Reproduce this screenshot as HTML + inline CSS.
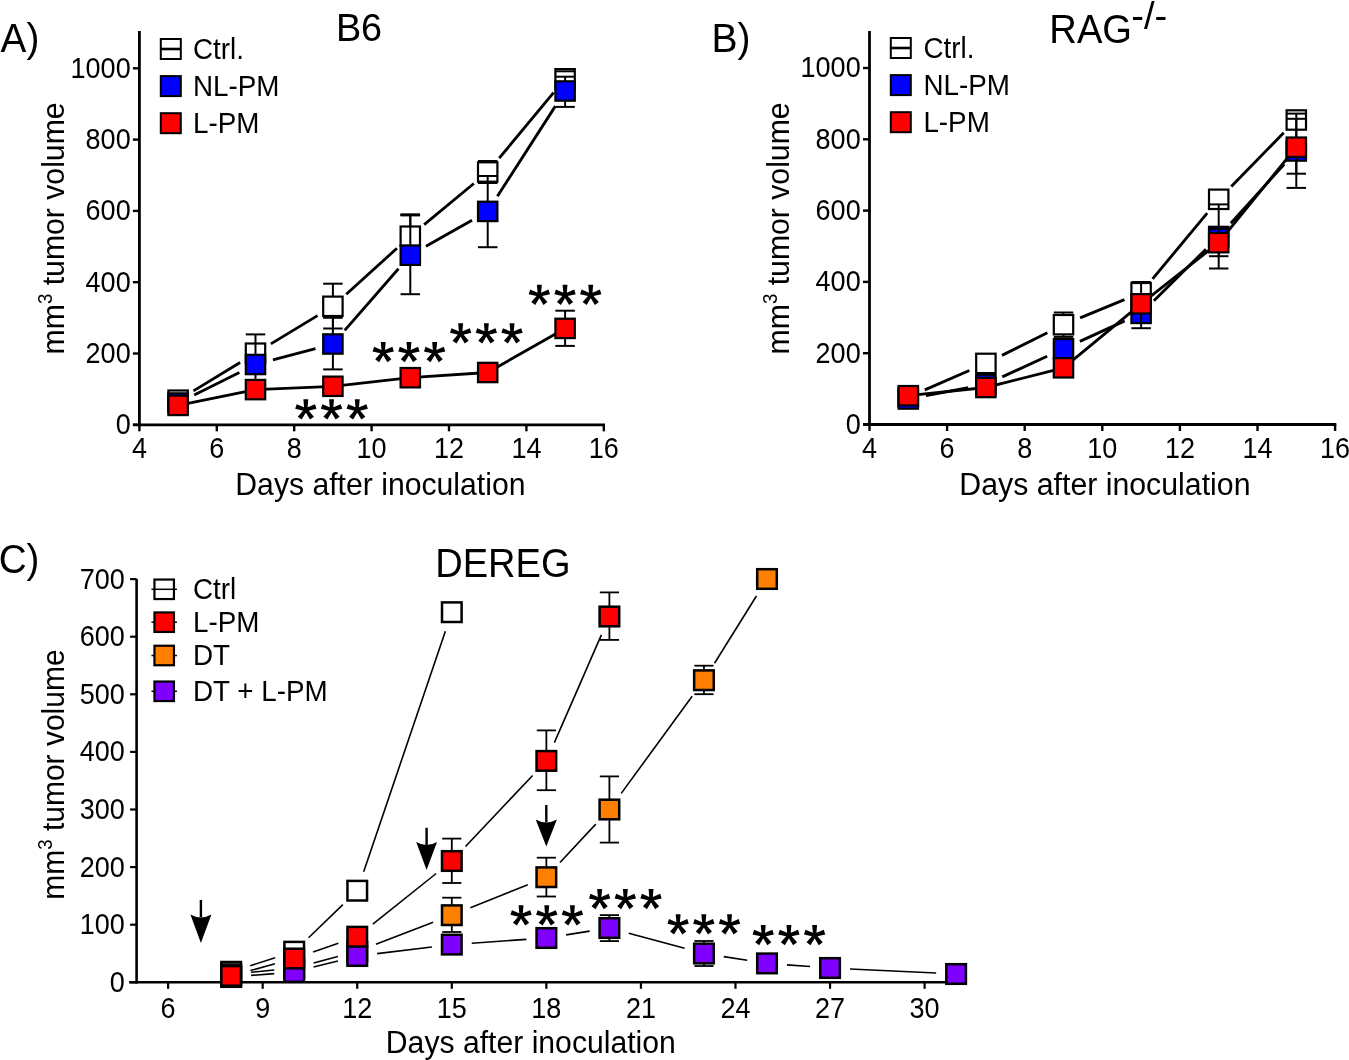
<!DOCTYPE html>
<html><head><meta charset="utf-8"><style>
html,body{margin:0;padding:0;background:#fff;}
svg{display:block;will-change:transform;}
text{font-family:"Liberation Sans", sans-serif;fill:#000;}
</style></head><body>
<svg width="1349" height="1060" viewBox="0 0 1349 1060">
<rect width="1349" height="1060" fill="#fff"/>
<text transform="translate(0.62,51.90) scale(1,1.05)" font-size="38.78" text-anchor="start" >A)</text>
<text transform="translate(335.90,40.60) scale(1,1.05)" font-size="37.82" text-anchor="start" >B6</text>
<line x1="132.90" y1="424.80" x2="605.00" y2="424.80" stroke="#000" stroke-width="2.8" stroke-linecap="butt"/>
<line x1="139.40" y1="426.20" x2="139.40" y2="31.00" stroke="#000" stroke-width="2.8" stroke-linecap="butt"/>
<line x1="139.40" y1="424.80" x2="139.40" y2="431.30" stroke="#000" stroke-width="2.4" stroke-linecap="butt"/>
<text transform="translate(139.40,458.20) scale(1,1.08)" font-size="27.00" text-anchor="middle" >4</text>
<line x1="216.80" y1="424.80" x2="216.80" y2="431.30" stroke="#000" stroke-width="2.4" stroke-linecap="butt"/>
<text transform="translate(216.80,458.20) scale(1,1.08)" font-size="27.00" text-anchor="middle" >6</text>
<line x1="294.20" y1="424.80" x2="294.20" y2="431.30" stroke="#000" stroke-width="2.4" stroke-linecap="butt"/>
<text transform="translate(294.20,458.20) scale(1,1.08)" font-size="27.00" text-anchor="middle" >8</text>
<line x1="371.60" y1="424.80" x2="371.60" y2="431.30" stroke="#000" stroke-width="2.4" stroke-linecap="butt"/>
<text transform="translate(371.60,458.20) scale(1,1.08)" font-size="27.00" text-anchor="middle" >10</text>
<line x1="449.00" y1="424.80" x2="449.00" y2="431.30" stroke="#000" stroke-width="2.4" stroke-linecap="butt"/>
<text transform="translate(449.00,458.20) scale(1,1.08)" font-size="27.00" text-anchor="middle" >12</text>
<line x1="526.40" y1="424.80" x2="526.40" y2="431.30" stroke="#000" stroke-width="2.4" stroke-linecap="butt"/>
<text transform="translate(526.40,458.20) scale(1,1.08)" font-size="27.00" text-anchor="middle" >14</text>
<line x1="603.80" y1="424.80" x2="603.80" y2="431.30" stroke="#000" stroke-width="2.4" stroke-linecap="butt"/>
<text transform="translate(603.80,458.20) scale(1,1.08)" font-size="27.00" text-anchor="middle" >16</text>
<line x1="132.90" y1="424.80" x2="139.40" y2="424.80" stroke="#000" stroke-width="2.4" stroke-linecap="butt"/>
<text transform="translate(115.64,434.25) scale(1,1.08)" font-size="27.00" text-anchor="start" >0</text>
<line x1="132.90" y1="353.50" x2="139.40" y2="353.50" stroke="#000" stroke-width="2.4" stroke-linecap="butt"/>
<text transform="translate(85.61,362.95) scale(1,1.08)" font-size="27.00" text-anchor="start" >200</text>
<line x1="132.90" y1="282.20" x2="139.40" y2="282.20" stroke="#000" stroke-width="2.4" stroke-linecap="butt"/>
<text transform="translate(85.61,291.65) scale(1,1.08)" font-size="27.00" text-anchor="start" >400</text>
<line x1="132.90" y1="210.90" x2="139.40" y2="210.90" stroke="#000" stroke-width="2.4" stroke-linecap="butt"/>
<text transform="translate(85.61,220.35) scale(1,1.08)" font-size="27.00" text-anchor="start" >600</text>
<line x1="132.90" y1="139.60" x2="139.40" y2="139.60" stroke="#000" stroke-width="2.4" stroke-linecap="butt"/>
<text transform="translate(85.61,149.05) scale(1,1.08)" font-size="27.00" text-anchor="start" >800</text>
<line x1="132.90" y1="68.30" x2="139.40" y2="68.30" stroke="#000" stroke-width="2.4" stroke-linecap="butt"/>
<text transform="translate(70.59,77.75) scale(1,1.08)" font-size="27.00" text-anchor="start" >1000</text>
<text transform="translate(235.32,494.70) scale(1,1.05)" font-size="30.18" text-anchor="start" >Days after inoculation</text>
<text transform="translate(63.80,354.40) rotate(-90) scale(1,1.05)" font-size="30.2">mm<tspan font-size="18.72" dy="-11.48">3</tspan><tspan dy="11.48"> tumor volume</tspan></text>
<rect x="160.80" y="39.00" width="20.00" height="20.00" fill="#fff" stroke="#000" stroke-width="2.0"/>
<line x1="160.80" y1="49.00" x2="180.80" y2="49.00" stroke="#000" stroke-width="2.6" stroke-linecap="butt"/>
<text transform="translate(193.00,58.60) scale(1,1.05)" font-size="27.80" text-anchor="start" >Ctrl.</text>
<rect x="160.80" y="76.10" width="20.00" height="20.00" fill="#0000ff" stroke="#000" stroke-width="2.0"/>
<text transform="translate(193.00,95.70) scale(1,1.05)" font-size="27.80" text-anchor="start" >NL-PM</text>
<rect x="160.80" y="113.20" width="20.00" height="20.00" fill="#ff0000" stroke="#000" stroke-width="2.0"/>
<text transform="translate(193.00,132.80) scale(1,1.05)" font-size="27.80" text-anchor="start" >L-PM</text>
<line x1="332.90" y1="306.30" x2="332.90" y2="283.70" stroke="#000" stroke-width="2.0"/>
<line x1="323.15" y1="283.70" x2="342.65" y2="283.70" stroke="#000" stroke-width="2.0"/>
<line x1="332.90" y1="306.30" x2="332.90" y2="328.50" stroke="#000" stroke-width="2.0"/>
<line x1="323.15" y1="328.50" x2="342.65" y2="328.50" stroke="#000" stroke-width="2.0"/>
<line x1="410.30" y1="236.20" x2="410.30" y2="214.90" stroke="#000" stroke-width="2.0"/>
<line x1="400.55" y1="214.90" x2="420.05" y2="214.90" stroke="#000" stroke-width="2.0"/>
<line x1="487.70" y1="172.00" x2="487.70" y2="161.00" stroke="#000" stroke-width="2.0"/>
<line x1="477.95" y1="161.00" x2="497.45" y2="161.00" stroke="#000" stroke-width="2.0"/>
<line x1="487.70" y1="172.00" x2="487.70" y2="183.00" stroke="#000" stroke-width="2.0"/>
<line x1="477.95" y1="183.00" x2="497.45" y2="183.00" stroke="#000" stroke-width="2.0"/>
<line x1="565.10" y1="78.80" x2="565.10" y2="71.30" stroke="#000" stroke-width="2.0"/>
<line x1="555.35" y1="71.30" x2="574.85" y2="71.30" stroke="#000" stroke-width="2.0"/>
<line x1="193.49" y1="390.86" x2="240.11" y2="362.54" stroke="#000" stroke-width="2.85"/>
<line x1="270.89" y1="343.87" x2="317.51" y2="315.63" stroke="#000" stroke-width="2.85"/>
<line x1="346.24" y1="294.22" x2="396.96" y2="248.28" stroke="#000" stroke-width="2.85"/>
<line x1="424.15" y1="224.71" x2="473.85" y2="183.49" stroke="#000" stroke-width="2.85"/>
<line x1="499.20" y1="158.15" x2="553.60" y2="92.65" stroke="#000" stroke-width="2.85"/>
<rect x="168.40" y="390.50" width="19.40" height="19.40" fill="#fff" stroke="#000" stroke-width="2.2"/>
<rect x="245.80" y="343.50" width="19.40" height="19.40" fill="#fff" stroke="#000" stroke-width="2.2"/>
<rect x="323.20" y="296.60" width="19.40" height="19.40" fill="#fff" stroke="#000" stroke-width="2.2"/>
<rect x="400.60" y="226.50" width="19.40" height="19.40" fill="#fff" stroke="#000" stroke-width="2.2"/>
<rect x="478.00" y="162.30" width="19.40" height="19.40" fill="#fff" stroke="#000" stroke-width="2.2"/>
<rect x="555.40" y="69.10" width="19.40" height="19.40" fill="#fff" stroke="#000" stroke-width="2.2"/>
<line x1="255.50" y1="364.50" x2="255.50" y2="334.40" stroke="#000" stroke-width="2.0"/>
<line x1="245.75" y1="334.40" x2="265.25" y2="334.40" stroke="#000" stroke-width="2.0"/>
<line x1="255.50" y1="364.50" x2="255.50" y2="394.60" stroke="#000" stroke-width="2.0"/>
<line x1="245.75" y1="394.60" x2="265.25" y2="394.60" stroke="#000" stroke-width="2.0"/>
<line x1="332.90" y1="344.00" x2="332.90" y2="317.80" stroke="#000" stroke-width="2.0"/>
<line x1="323.15" y1="317.80" x2="342.65" y2="317.80" stroke="#000" stroke-width="2.0"/>
<line x1="332.90" y1="344.00" x2="332.90" y2="369.40" stroke="#000" stroke-width="2.0"/>
<line x1="323.15" y1="369.40" x2="342.65" y2="369.40" stroke="#000" stroke-width="2.0"/>
<line x1="410.30" y1="255.20" x2="410.30" y2="214.90" stroke="#000" stroke-width="2.0"/>
<line x1="400.55" y1="214.90" x2="420.05" y2="214.90" stroke="#000" stroke-width="2.0"/>
<line x1="410.30" y1="255.20" x2="410.30" y2="294.20" stroke="#000" stroke-width="2.0"/>
<line x1="400.55" y1="294.20" x2="420.05" y2="294.20" stroke="#000" stroke-width="2.0"/>
<line x1="487.70" y1="211.40" x2="487.70" y2="176.00" stroke="#000" stroke-width="2.0"/>
<line x1="477.95" y1="176.00" x2="497.45" y2="176.00" stroke="#000" stroke-width="2.0"/>
<line x1="487.70" y1="211.40" x2="487.70" y2="247.20" stroke="#000" stroke-width="2.0"/>
<line x1="477.95" y1="247.20" x2="497.45" y2="247.20" stroke="#000" stroke-width="2.0"/>
<line x1="565.10" y1="91.00" x2="565.10" y2="76.70" stroke="#000" stroke-width="2.0"/>
<line x1="555.35" y1="76.70" x2="574.85" y2="76.70" stroke="#000" stroke-width="2.0"/>
<line x1="565.10" y1="91.00" x2="565.10" y2="106.90" stroke="#000" stroke-width="2.0"/>
<line x1="555.35" y1="106.90" x2="574.85" y2="106.90" stroke="#000" stroke-width="2.0"/>
<line x1="194.22" y1="394.98" x2="239.38" y2="372.52" stroke="#000" stroke-width="2.85"/>
<line x1="272.90" y1="359.89" x2="315.50" y2="348.61" stroke="#000" stroke-width="2.85"/>
<line x1="344.73" y1="330.43" x2="398.47" y2="268.77" stroke="#000" stroke-width="2.85"/>
<line x1="425.97" y1="246.33" x2="472.03" y2="220.27" stroke="#000" stroke-width="2.85"/>
<line x1="497.43" y1="196.26" x2="555.37" y2="106.14" stroke="#000" stroke-width="2.85"/>
<rect x="168.40" y="393.30" width="19.40" height="19.40" fill="#0000ff" stroke="#000" stroke-width="2.2"/>
<rect x="245.80" y="354.80" width="19.40" height="19.40" fill="#0000ff" stroke="#000" stroke-width="2.2"/>
<rect x="323.20" y="334.30" width="19.40" height="19.40" fill="#0000ff" stroke="#000" stroke-width="2.2"/>
<rect x="400.60" y="245.50" width="19.40" height="19.40" fill="#0000ff" stroke="#000" stroke-width="2.2"/>
<rect x="478.00" y="201.70" width="19.40" height="19.40" fill="#0000ff" stroke="#000" stroke-width="2.2"/>
<rect x="555.40" y="81.30" width="19.40" height="19.40" fill="#0000ff" stroke="#000" stroke-width="2.2"/>
<line x1="565.10" y1="328.40" x2="565.10" y2="310.70" stroke="#000" stroke-width="2.0"/>
<line x1="555.35" y1="310.70" x2="574.85" y2="310.70" stroke="#000" stroke-width="2.0"/>
<line x1="565.10" y1="328.40" x2="565.10" y2="345.90" stroke="#000" stroke-width="2.0"/>
<line x1="555.35" y1="345.90" x2="574.85" y2="345.90" stroke="#000" stroke-width="2.0"/>
<line x1="178.10" y1="405.40" x2="255.50" y2="389.60" stroke="#000" stroke-width="2.85"/>
<line x1="255.50" y1="389.60" x2="332.90" y2="386.30" stroke="#000" stroke-width="2.85"/>
<line x1="332.90" y1="386.30" x2="410.30" y2="377.70" stroke="#000" stroke-width="2.85"/>
<line x1="410.30" y1="377.70" x2="487.70" y2="372.50" stroke="#000" stroke-width="2.85"/>
<line x1="487.70" y1="372.50" x2="565.10" y2="328.40" stroke="#000" stroke-width="2.85"/>
<rect x="168.40" y="395.70" width="19.40" height="19.40" fill="#ff0000" stroke="#000" stroke-width="2.2"/>
<rect x="245.80" y="379.90" width="19.40" height="19.40" fill="#ff0000" stroke="#000" stroke-width="2.2"/>
<rect x="323.20" y="376.60" width="19.40" height="19.40" fill="#ff0000" stroke="#000" stroke-width="2.2"/>
<rect x="400.60" y="368.00" width="19.40" height="19.40" fill="#ff0000" stroke="#000" stroke-width="2.2"/>
<rect x="478.00" y="362.80" width="19.40" height="19.40" fill="#ff0000" stroke="#000" stroke-width="2.2"/>
<rect x="555.40" y="318.70" width="19.40" height="19.40" fill="#ff0000" stroke="#000" stroke-width="2.2"/>
<line x1="555.60" y1="71.30" x2="574.60" y2="71.30" stroke="#000" stroke-width="2.0" stroke-linecap="butt"/>
<line x1="400.55" y1="214.90" x2="420.05" y2="214.90" stroke="#000" stroke-width="3.0" stroke-linecap="butt"/>
<path d="M307.39,409.70 L308.29,399.30 L303.39,399.30 L304.29,409.70Z M306.32,411.17 L316.49,408.82 L314.97,404.16 L305.36,408.23Z M304.59,410.61 L309.97,419.55 L313.94,416.67 L307.09,408.79Z M304.59,408.79 L297.75,416.67 L301.71,419.55 L307.09,410.61Z M306.32,408.23 L296.71,404.16 L295.19,408.82 L305.36,411.17Z" fill="#000"/>
<circle cx="305.84" cy="409.70" r="2.79" fill="#000"/>
<path d="M333.09,409.70 L333.99,399.30 L329.09,399.30 L329.99,409.70Z M332.02,411.17 L342.19,408.82 L340.67,404.16 L331.06,408.23Z M330.29,410.61 L335.67,419.55 L339.64,416.67 L332.79,408.79Z M330.29,408.79 L323.45,416.67 L327.41,419.55 L332.79,410.61Z M332.02,408.23 L322.41,404.16 L320.89,408.82 L331.06,411.17Z" fill="#000"/>
<circle cx="331.54" cy="409.70" r="2.79" fill="#000"/>
<path d="M358.79,409.70 L359.69,399.30 L354.79,399.30 L355.69,409.70Z M357.72,411.17 L367.89,408.82 L366.37,404.16 L356.76,408.23Z M355.99,410.61 L361.37,419.55 L365.34,416.67 L358.49,408.79Z M355.99,408.79 L349.15,416.67 L353.11,419.55 L358.49,410.61Z M357.72,408.23 L348.11,404.16 L346.59,408.82 L356.76,411.17Z" fill="#000"/>
<circle cx="357.24" cy="409.70" r="2.79" fill="#000"/>
<path d="M384.79,352.40 L385.69,342.00 L380.79,342.00 L381.69,352.40Z M383.72,353.87 L393.89,351.52 L392.37,346.86 L382.76,350.93Z M381.99,353.31 L387.37,362.25 L391.34,359.37 L384.49,351.49Z M381.99,351.49 L375.15,359.37 L379.11,362.25 L384.49,353.31Z M383.72,350.93 L374.11,346.86 L372.59,351.52 L382.76,353.87Z" fill="#000"/>
<circle cx="383.24" cy="352.40" r="2.79" fill="#000"/>
<path d="M410.49,352.40 L411.39,342.00 L406.49,342.00 L407.39,352.40Z M409.42,353.87 L419.59,351.52 L418.07,346.86 L408.46,350.93Z M407.69,353.31 L413.07,362.25 L417.04,359.37 L410.19,351.49Z M407.69,351.49 L400.85,359.37 L404.81,362.25 L410.19,353.31Z M409.42,350.93 L399.81,346.86 L398.29,351.52 L408.46,353.87Z" fill="#000"/>
<circle cx="408.94" cy="352.40" r="2.79" fill="#000"/>
<path d="M436.19,352.40 L437.09,342.00 L432.19,342.00 L433.09,352.40Z M435.12,353.87 L445.29,351.52 L443.77,346.86 L434.16,350.93Z M433.39,353.31 L438.77,362.25 L442.74,359.37 L435.89,351.49Z M433.39,351.49 L426.55,359.37 L430.51,362.25 L435.89,353.31Z M435.12,350.93 L425.51,346.86 L423.99,351.52 L434.16,353.87Z" fill="#000"/>
<circle cx="434.64" cy="352.40" r="2.79" fill="#000"/>
<path d="M462.19,333.70 L463.09,323.30 L458.19,323.30 L459.09,333.70Z M461.12,335.17 L471.29,332.82 L469.77,328.16 L460.16,332.23Z M459.39,334.61 L464.77,343.55 L468.74,340.67 L461.89,332.79Z M459.39,332.79 L452.55,340.67 L456.51,343.55 L461.89,334.61Z M461.12,332.23 L451.51,328.16 L449.99,332.82 L460.16,335.17Z" fill="#000"/>
<circle cx="460.64" cy="333.70" r="2.79" fill="#000"/>
<path d="M487.89,333.70 L488.79,323.30 L483.89,323.30 L484.79,333.70Z M486.82,335.17 L496.99,332.82 L495.47,328.16 L485.86,332.23Z M485.09,334.61 L490.47,343.55 L494.44,340.67 L487.59,332.79Z M485.09,332.79 L478.25,340.67 L482.21,343.55 L487.59,334.61Z M486.82,332.23 L477.21,328.16 L475.69,332.82 L485.86,335.17Z" fill="#000"/>
<circle cx="486.34" cy="333.70" r="2.79" fill="#000"/>
<path d="M513.59,333.70 L514.49,323.30 L509.59,323.30 L510.49,333.70Z M512.52,335.17 L522.69,332.82 L521.17,328.16 L511.56,332.23Z M510.79,334.61 L516.17,343.55 L520.14,340.67 L513.29,332.79Z M510.79,332.79 L503.95,340.67 L507.91,343.55 L513.29,334.61Z M512.52,332.23 L502.91,328.16 L501.39,332.82 L511.56,335.17Z" fill="#000"/>
<circle cx="512.04" cy="333.70" r="2.79" fill="#000"/>
<path d="M540.89,295.10 L541.79,284.70 L536.89,284.70 L537.79,295.10Z M539.82,296.57 L549.99,294.22 L548.47,289.56 L538.86,293.63Z M538.09,296.01 L543.47,304.95 L547.44,302.07 L540.59,294.19Z M538.09,294.19 L531.25,302.07 L535.21,304.95 L540.59,296.01Z M539.82,293.63 L530.21,289.56 L528.69,294.22 L538.86,296.57Z" fill="#000"/>
<circle cx="539.34" cy="295.10" r="2.79" fill="#000"/>
<path d="M566.59,295.10 L567.49,284.70 L562.59,284.70 L563.49,295.10Z M565.52,296.57 L575.69,294.22 L574.17,289.56 L564.56,293.63Z M563.79,296.01 L569.17,304.95 L573.14,302.07 L566.29,294.19Z M563.79,294.19 L556.95,302.07 L560.91,304.95 L566.29,296.01Z M565.52,293.63 L555.91,289.56 L554.39,294.22 L564.56,296.57Z" fill="#000"/>
<circle cx="565.04" cy="295.10" r="2.79" fill="#000"/>
<path d="M592.29,295.10 L593.19,284.70 L588.29,284.70 L589.19,295.10Z M591.22,296.57 L601.39,294.22 L599.87,289.56 L590.26,293.63Z M589.49,296.01 L594.87,304.95 L598.84,302.07 L591.99,294.19Z M589.49,294.19 L582.65,302.07 L586.61,304.95 L591.99,296.01Z M591.22,293.63 L581.61,289.56 L580.09,294.22 L590.26,296.57Z" fill="#000"/>
<circle cx="590.74" cy="295.10" r="2.79" fill="#000"/>
<text transform="translate(711.60,51.70) scale(1,1.05)" font-size="39.02" text-anchor="start" >B)</text>
<text transform="translate(1049.37,42.90) scale(1,1.05)" font-size="38.15" text-anchor="start" >RAG</text>
<text transform="translate(1131.20,29.00) scale(1,1.0)" font-size="38.20" text-anchor="start" >-/-</text>
<line x1="863.00" y1="424.50" x2="1336.30" y2="424.50" stroke="#000" stroke-width="2.8" stroke-linecap="butt"/>
<line x1="869.50" y1="425.90" x2="869.50" y2="31.00" stroke="#000" stroke-width="2.8" stroke-linecap="butt"/>
<line x1="869.50" y1="424.50" x2="869.50" y2="431.00" stroke="#000" stroke-width="2.4" stroke-linecap="butt"/>
<text transform="translate(869.50,458.20) scale(1,1.08)" font-size="27.00" text-anchor="middle" >4</text>
<line x1="947.10" y1="424.50" x2="947.10" y2="431.00" stroke="#000" stroke-width="2.4" stroke-linecap="butt"/>
<text transform="translate(947.10,458.20) scale(1,1.08)" font-size="27.00" text-anchor="middle" >6</text>
<line x1="1024.70" y1="424.50" x2="1024.70" y2="431.00" stroke="#000" stroke-width="2.4" stroke-linecap="butt"/>
<text transform="translate(1024.70,458.20) scale(1,1.08)" font-size="27.00" text-anchor="middle" >8</text>
<line x1="1102.30" y1="424.50" x2="1102.30" y2="431.00" stroke="#000" stroke-width="2.4" stroke-linecap="butt"/>
<text transform="translate(1102.30,458.20) scale(1,1.08)" font-size="27.00" text-anchor="middle" >10</text>
<line x1="1179.90" y1="424.50" x2="1179.90" y2="431.00" stroke="#000" stroke-width="2.4" stroke-linecap="butt"/>
<text transform="translate(1179.90,458.20) scale(1,1.08)" font-size="27.00" text-anchor="middle" >12</text>
<line x1="1257.50" y1="424.50" x2="1257.50" y2="431.00" stroke="#000" stroke-width="2.4" stroke-linecap="butt"/>
<text transform="translate(1257.50,458.20) scale(1,1.08)" font-size="27.00" text-anchor="middle" >14</text>
<line x1="1335.10" y1="424.50" x2="1335.10" y2="431.00" stroke="#000" stroke-width="2.4" stroke-linecap="butt"/>
<text transform="translate(1335.10,458.20) scale(1,1.08)" font-size="27.00" text-anchor="middle" >16</text>
<line x1="863.00" y1="424.50" x2="869.50" y2="424.50" stroke="#000" stroke-width="2.4" stroke-linecap="butt"/>
<text transform="translate(845.64,433.95) scale(1,1.08)" font-size="27.00" text-anchor="start" >0</text>
<line x1="863.00" y1="353.20" x2="869.50" y2="353.20" stroke="#000" stroke-width="2.4" stroke-linecap="butt"/>
<text transform="translate(815.61,362.65) scale(1,1.08)" font-size="27.00" text-anchor="start" >200</text>
<line x1="863.00" y1="281.90" x2="869.50" y2="281.90" stroke="#000" stroke-width="2.4" stroke-linecap="butt"/>
<text transform="translate(815.61,291.35) scale(1,1.08)" font-size="27.00" text-anchor="start" >400</text>
<line x1="863.00" y1="210.60" x2="869.50" y2="210.60" stroke="#000" stroke-width="2.4" stroke-linecap="butt"/>
<text transform="translate(815.61,220.05) scale(1,1.08)" font-size="27.00" text-anchor="start" >600</text>
<line x1="863.00" y1="139.30" x2="869.50" y2="139.30" stroke="#000" stroke-width="2.4" stroke-linecap="butt"/>
<text transform="translate(815.61,148.75) scale(1,1.08)" font-size="27.00" text-anchor="start" >800</text>
<line x1="863.00" y1="68.00" x2="869.50" y2="68.00" stroke="#000" stroke-width="2.4" stroke-linecap="butt"/>
<text transform="translate(800.59,77.45) scale(1,1.08)" font-size="27.00" text-anchor="start" >1000</text>
<text transform="translate(959.31,495.20) scale(1,1.05)" font-size="30.30" text-anchor="start" >Days after inoculation</text>
<text transform="translate(788.60,354.40) rotate(-90) scale(1,1.05)" font-size="30.2">mm<tspan font-size="18.72" dy="-11.48">3</tspan><tspan dy="11.48"> tumor volume</tspan></text>
<rect x="890.80" y="38.00" width="20.00" height="20.00" fill="#fff" stroke="#000" stroke-width="2.0"/>
<line x1="890.80" y1="48.00" x2="910.80" y2="48.00" stroke="#000" stroke-width="2.6" stroke-linecap="butt"/>
<text transform="translate(923.40,57.60) scale(1,1.05)" font-size="27.80" text-anchor="start" >Ctrl.</text>
<rect x="890.80" y="75.10" width="20.00" height="20.00" fill="#0000ff" stroke="#000" stroke-width="2.0"/>
<text transform="translate(923.40,94.70) scale(1,1.05)" font-size="27.80" text-anchor="start" >NL-PM</text>
<rect x="890.80" y="112.20" width="20.00" height="20.00" fill="#ff0000" stroke="#000" stroke-width="2.0"/>
<text transform="translate(923.40,131.80) scale(1,1.05)" font-size="27.80" text-anchor="start" >L-PM</text>
<line x1="1063.50" y1="324.70" x2="1063.50" y2="312.50" stroke="#000" stroke-width="2.0"/>
<line x1="1053.75" y1="312.50" x2="1073.25" y2="312.50" stroke="#000" stroke-width="2.0"/>
<line x1="1063.50" y1="324.70" x2="1063.50" y2="336.90" stroke="#000" stroke-width="2.0"/>
<line x1="1053.75" y1="336.90" x2="1073.25" y2="336.90" stroke="#000" stroke-width="2.0"/>
<line x1="924.82" y1="389.85" x2="969.38" y2="370.55" stroke="#000" stroke-width="2.85"/>
<line x1="1002.01" y1="355.37" x2="1047.39" y2="332.73" stroke="#000" stroke-width="2.85"/>
<line x1="1080.14" y1="317.84" x2="1124.46" y2="299.56" stroke="#000" stroke-width="2.85"/>
<line x1="1152.60" y1="278.86" x2="1207.20" y2="213.14" stroke="#000" stroke-width="2.85"/>
<line x1="1231.29" y1="186.43" x2="1283.71" y2="132.87" stroke="#000" stroke-width="2.85"/>
<rect x="898.60" y="387.30" width="19.40" height="19.40" fill="#fff" stroke="#000" stroke-width="2.2"/>
<rect x="976.20" y="353.70" width="19.40" height="19.40" fill="#fff" stroke="#000" stroke-width="2.2"/>
<rect x="1053.80" y="315.00" width="19.40" height="19.40" fill="#fff" stroke="#000" stroke-width="2.2"/>
<rect x="1131.40" y="283.00" width="19.40" height="19.40" fill="#fff" stroke="#000" stroke-width="2.2"/>
<rect x="1209.00" y="189.60" width="19.40" height="19.40" fill="#fff" stroke="#000" stroke-width="2.2"/>
<rect x="1286.60" y="110.30" width="19.40" height="19.40" fill="#fff" stroke="#000" stroke-width="2.2"/>
<line x1="1218.70" y1="236.50" x2="1218.70" y2="204.40" stroke="#000" stroke-width="2.0"/>
<line x1="1208.95" y1="204.40" x2="1228.45" y2="204.40" stroke="#000" stroke-width="2.0"/>
<line x1="1218.70" y1="236.50" x2="1218.70" y2="268.50" stroke="#000" stroke-width="2.0"/>
<line x1="1208.95" y1="268.50" x2="1228.45" y2="268.50" stroke="#000" stroke-width="2.0"/>
<line x1="1296.30" y1="151.00" x2="1296.30" y2="113.60" stroke="#000" stroke-width="2.0"/>
<line x1="1286.55" y1="113.60" x2="1306.05" y2="113.60" stroke="#000" stroke-width="2.0"/>
<line x1="1296.30" y1="151.00" x2="1296.30" y2="187.90" stroke="#000" stroke-width="2.0"/>
<line x1="1286.55" y1="187.90" x2="1306.05" y2="187.90" stroke="#000" stroke-width="2.0"/>
<line x1="925.99" y1="395.67" x2="968.21" y2="387.73" stroke="#000" stroke-width="2.85"/>
<line x1="1002.26" y1="376.89" x2="1047.14" y2="356.31" stroke="#000" stroke-width="2.85"/>
<line x1="1079.88" y1="341.33" x2="1124.72" y2="320.87" stroke="#000" stroke-width="2.85"/>
<line x1="1153.89" y1="300.73" x2="1205.91" y2="249.17" stroke="#000" stroke-width="2.85"/>
<line x1="1230.80" y1="223.17" x2="1284.20" y2="164.33" stroke="#000" stroke-width="2.85"/>
<rect x="898.60" y="389.30" width="19.40" height="19.40" fill="#0000ff" stroke="#000" stroke-width="2.2"/>
<rect x="976.20" y="374.70" width="19.40" height="19.40" fill="#0000ff" stroke="#000" stroke-width="2.2"/>
<rect x="1053.80" y="339.10" width="19.40" height="19.40" fill="#0000ff" stroke="#000" stroke-width="2.2"/>
<rect x="1131.40" y="303.70" width="19.40" height="19.40" fill="#0000ff" stroke="#000" stroke-width="2.2"/>
<rect x="1209.00" y="226.80" width="19.40" height="19.40" fill="#0000ff" stroke="#000" stroke-width="2.2"/>
<rect x="1286.60" y="141.30" width="19.40" height="19.40" fill="#0000ff" stroke="#000" stroke-width="2.2"/>
<line x1="1141.10" y1="303.80" x2="1141.10" y2="282.00" stroke="#000" stroke-width="2.0"/>
<line x1="1131.35" y1="282.00" x2="1150.85" y2="282.00" stroke="#000" stroke-width="2.0"/>
<line x1="1141.10" y1="303.80" x2="1141.10" y2="328.20" stroke="#000" stroke-width="2.0"/>
<line x1="1131.35" y1="328.20" x2="1150.85" y2="328.20" stroke="#000" stroke-width="2.0"/>
<line x1="1218.70" y1="242.70" x2="1218.70" y2="229.00" stroke="#000" stroke-width="2.0"/>
<line x1="1208.95" y1="229.00" x2="1228.45" y2="229.00" stroke="#000" stroke-width="2.0"/>
<line x1="1218.70" y1="242.70" x2="1218.70" y2="256.20" stroke="#000" stroke-width="2.0"/>
<line x1="1208.95" y1="256.20" x2="1228.45" y2="256.20" stroke="#000" stroke-width="2.0"/>
<line x1="1296.30" y1="147.20" x2="1296.30" y2="118.80" stroke="#000" stroke-width="2.0"/>
<line x1="1286.55" y1="118.80" x2="1306.05" y2="118.80" stroke="#000" stroke-width="2.0"/>
<line x1="1296.30" y1="147.20" x2="1296.30" y2="173.70" stroke="#000" stroke-width="2.0"/>
<line x1="1286.55" y1="173.70" x2="1306.05" y2="173.70" stroke="#000" stroke-width="2.0"/>
<line x1="908.30" y1="395.70" x2="985.90" y2="387.50" stroke="#000" stroke-width="2.85"/>
<line x1="985.90" y1="387.50" x2="1063.50" y2="367.80" stroke="#000" stroke-width="2.85"/>
<line x1="1063.50" y1="367.80" x2="1141.10" y2="303.80" stroke="#000" stroke-width="2.85"/>
<line x1="1141.10" y1="303.80" x2="1218.70" y2="242.70" stroke="#000" stroke-width="2.85"/>
<line x1="1218.70" y1="242.70" x2="1296.30" y2="147.20" stroke="#000" stroke-width="2.85"/>
<rect x="898.60" y="386.00" width="19.40" height="19.40" fill="#ff0000" stroke="#000" stroke-width="2.2"/>
<rect x="976.20" y="377.80" width="19.40" height="19.40" fill="#ff0000" stroke="#000" stroke-width="2.2"/>
<rect x="1053.80" y="358.10" width="19.40" height="19.40" fill="#ff0000" stroke="#000" stroke-width="2.2"/>
<rect x="1131.40" y="294.10" width="19.40" height="19.40" fill="#ff0000" stroke="#000" stroke-width="2.2"/>
<rect x="1209.00" y="233.00" width="19.40" height="19.40" fill="#ff0000" stroke="#000" stroke-width="2.2"/>
<rect x="1286.60" y="137.50" width="19.40" height="19.40" fill="#ff0000" stroke="#000" stroke-width="2.2"/>
<text transform="translate(-1.36,573.20) scale(1,1.05)" font-size="38.63" text-anchor="start" >C)</text>
<text transform="translate(435.28,576.80) scale(1,1.05)" font-size="38.04" text-anchor="start" >DEREG</text>
<line x1="129.10" y1="982.30" x2="965.58" y2="982.30" stroke="#000" stroke-width="2.6" stroke-linecap="butt"/>
<line x1="136.60" y1="983.60" x2="136.60" y2="579.10" stroke="#000" stroke-width="2.6" stroke-linecap="butt"/>
<line x1="168.12" y1="982.30" x2="168.12" y2="988.80" stroke="#000" stroke-width="2.2" stroke-linecap="butt"/>
<text transform="translate(168.12,1018.20) scale(1,1.08)" font-size="27.00" text-anchor="middle" >6</text>
<line x1="262.68" y1="982.30" x2="262.68" y2="988.80" stroke="#000" stroke-width="2.2" stroke-linecap="butt"/>
<text transform="translate(262.68,1018.20) scale(1,1.08)" font-size="27.00" text-anchor="middle" >9</text>
<line x1="357.24" y1="982.30" x2="357.24" y2="988.80" stroke="#000" stroke-width="2.2" stroke-linecap="butt"/>
<text transform="translate(357.24,1018.20) scale(1,1.08)" font-size="27.00" text-anchor="middle" >12</text>
<line x1="451.80" y1="982.30" x2="451.80" y2="988.80" stroke="#000" stroke-width="2.2" stroke-linecap="butt"/>
<text transform="translate(451.80,1018.20) scale(1,1.08)" font-size="27.00" text-anchor="middle" >15</text>
<line x1="546.36" y1="982.30" x2="546.36" y2="988.80" stroke="#000" stroke-width="2.2" stroke-linecap="butt"/>
<text transform="translate(546.36,1018.20) scale(1,1.08)" font-size="27.00" text-anchor="middle" >18</text>
<line x1="640.92" y1="982.30" x2="640.92" y2="988.80" stroke="#000" stroke-width="2.2" stroke-linecap="butt"/>
<text transform="translate(640.92,1018.20) scale(1,1.08)" font-size="27.00" text-anchor="middle" >21</text>
<line x1="735.48" y1="982.30" x2="735.48" y2="988.80" stroke="#000" stroke-width="2.2" stroke-linecap="butt"/>
<text transform="translate(735.48,1018.20) scale(1,1.08)" font-size="27.00" text-anchor="middle" >24</text>
<line x1="830.04" y1="982.30" x2="830.04" y2="988.80" stroke="#000" stroke-width="2.2" stroke-linecap="butt"/>
<text transform="translate(830.04,1018.20) scale(1,1.08)" font-size="27.00" text-anchor="middle" >27</text>
<line x1="924.60" y1="982.30" x2="924.60" y2="988.80" stroke="#000" stroke-width="2.2" stroke-linecap="butt"/>
<text transform="translate(924.60,1018.20) scale(1,1.08)" font-size="27.00" text-anchor="middle" >30</text>
<line x1="130.10" y1="982.30" x2="136.60" y2="982.30" stroke="#000" stroke-width="2.2" stroke-linecap="butt"/>
<text transform="translate(109.84,991.75) scale(1,1.08)" font-size="27.00" text-anchor="start" >0</text>
<line x1="130.10" y1="924.70" x2="136.60" y2="924.70" stroke="#000" stroke-width="2.2" stroke-linecap="butt"/>
<text transform="translate(79.81,934.15) scale(1,1.08)" font-size="27.00" text-anchor="start" >100</text>
<line x1="130.10" y1="867.10" x2="136.60" y2="867.10" stroke="#000" stroke-width="2.2" stroke-linecap="butt"/>
<text transform="translate(79.81,876.55) scale(1,1.08)" font-size="27.00" text-anchor="start" >200</text>
<line x1="130.10" y1="809.50" x2="136.60" y2="809.50" stroke="#000" stroke-width="2.2" stroke-linecap="butt"/>
<text transform="translate(79.81,818.95) scale(1,1.08)" font-size="27.00" text-anchor="start" >300</text>
<line x1="130.10" y1="751.90" x2="136.60" y2="751.90" stroke="#000" stroke-width="2.2" stroke-linecap="butt"/>
<text transform="translate(79.81,761.35) scale(1,1.08)" font-size="27.00" text-anchor="start" >400</text>
<line x1="130.10" y1="694.30" x2="136.60" y2="694.30" stroke="#000" stroke-width="2.2" stroke-linecap="butt"/>
<text transform="translate(79.81,703.75) scale(1,1.08)" font-size="27.00" text-anchor="start" >500</text>
<line x1="130.10" y1="636.70" x2="136.60" y2="636.70" stroke="#000" stroke-width="2.2" stroke-linecap="butt"/>
<text transform="translate(79.81,646.15) scale(1,1.08)" font-size="27.00" text-anchor="start" >600</text>
<line x1="130.10" y1="579.10" x2="136.60" y2="579.10" stroke="#000" stroke-width="2.2" stroke-linecap="butt"/>
<text transform="translate(79.81,588.55) scale(1,1.08)" font-size="27.00" text-anchor="start" >700</text>
<text transform="translate(385.83,1053.00) scale(1,1.05)" font-size="30.17" text-anchor="start" >Days after inoculation</text>
<text transform="translate(63.60,899.70) rotate(-90) scale(1,1.05)" font-size="30.0">mm<tspan font-size="18.60" dy="-11.40">3</tspan><tspan dy="11.40"> tumor volume</tspan></text>
<rect x="154.45" y="579.55" width="19.50" height="19.50" fill="#fff" stroke="#000" stroke-width="2.2"/>
<line x1="151.45" y1="589.30" x2="176.95" y2="589.30" stroke="#000" stroke-width="1.5" stroke-linecap="butt"/>
<text transform="translate(193.00,599.10) scale(1,1.05)" font-size="27.80" text-anchor="start" >Ctrl</text>
<rect x="154.45" y="612.45" width="19.50" height="19.50" fill="#ff0000" stroke="#000" stroke-width="2.2"/>
<line x1="151.45" y1="622.20" x2="154.45" y2="622.20" stroke="#000" stroke-width="1.5" stroke-linecap="butt"/>
<line x1="173.95" y1="622.20" x2="176.95" y2="622.20" stroke="#000" stroke-width="1.5" stroke-linecap="butt"/>
<text transform="translate(193.00,632.00) scale(1,1.05)" font-size="27.80" text-anchor="start" >L-PM</text>
<rect x="154.45" y="645.75" width="19.50" height="19.50" fill="#ff8000" stroke="#000" stroke-width="2.2"/>
<line x1="151.45" y1="655.50" x2="154.45" y2="655.50" stroke="#000" stroke-width="1.5" stroke-linecap="butt"/>
<line x1="173.95" y1="655.50" x2="176.95" y2="655.50" stroke="#000" stroke-width="1.5" stroke-linecap="butt"/>
<text transform="translate(193.00,665.30) scale(1,1.05)" font-size="27.80" text-anchor="start" >DT</text>
<rect x="154.45" y="681.55" width="19.50" height="19.50" fill="#8000ff" stroke="#000" stroke-width="2.2"/>
<line x1="151.45" y1="691.30" x2="154.45" y2="691.30" stroke="#000" stroke-width="1.5" stroke-linecap="butt"/>
<line x1="173.95" y1="691.30" x2="176.95" y2="691.30" stroke="#000" stroke-width="1.5" stroke-linecap="butt"/>
<text transform="translate(193.00,701.10) scale(1,1.05)" font-size="27.80" text-anchor="start" >DT + L-PM</text>
<line x1="250.21" y1="965.72" x2="275.15" y2="957.78" stroke="#000" stroke-width="1.6"/>
<line x1="308.57" y1="937.79" x2="342.87" y2="904.61" stroke="#000" stroke-width="1.6"/>
<line x1="363.67" y1="871.76" x2="445.37" y2="631.14" stroke="#000" stroke-width="1.6"/>
<rect x="221.36" y="962.00" width="19.60" height="19.60" fill="#fff" stroke="#000" stroke-width="2.5"/>
<rect x="284.40" y="941.90" width="19.60" height="19.60" fill="#fff" stroke="#000" stroke-width="2.5"/>
<rect x="347.44" y="880.90" width="19.60" height="19.60" fill="#fff" stroke="#000" stroke-width="2.5"/>
<rect x="442.00" y="602.40" width="19.60" height="19.60" fill="#fff" stroke="#000" stroke-width="2.5"/>
<line x1="451.80" y1="915.20" x2="451.80" y2="897.70" stroke="#000" stroke-width="1.8"/>
<line x1="442.20" y1="897.70" x2="461.40" y2="897.70" stroke="#000" stroke-width="1.8"/>
<line x1="451.80" y1="915.20" x2="451.80" y2="932.00" stroke="#000" stroke-width="1.8"/>
<line x1="442.20" y1="932.00" x2="461.40" y2="932.00" stroke="#000" stroke-width="1.8"/>
<line x1="546.36" y1="877.20" x2="546.36" y2="857.70" stroke="#000" stroke-width="1.8"/>
<line x1="536.76" y1="857.70" x2="555.96" y2="857.70" stroke="#000" stroke-width="1.8"/>
<line x1="546.36" y1="877.20" x2="546.36" y2="896.50" stroke="#000" stroke-width="1.8"/>
<line x1="536.76" y1="896.50" x2="555.96" y2="896.50" stroke="#000" stroke-width="1.8"/>
<line x1="609.40" y1="809.50" x2="609.40" y2="776.40" stroke="#000" stroke-width="1.8"/>
<line x1="599.80" y1="776.40" x2="619.00" y2="776.40" stroke="#000" stroke-width="1.8"/>
<line x1="609.40" y1="809.50" x2="609.40" y2="842.60" stroke="#000" stroke-width="1.8"/>
<line x1="599.80" y1="842.60" x2="619.00" y2="842.60" stroke="#000" stroke-width="1.8"/>
<line x1="703.96" y1="680.20" x2="703.96" y2="665.70" stroke="#000" stroke-width="1.8"/>
<line x1="694.36" y1="665.70" x2="713.56" y2="665.70" stroke="#000" stroke-width="1.8"/>
<line x1="703.96" y1="680.20" x2="703.96" y2="694.20" stroke="#000" stroke-width="1.8"/>
<line x1="694.36" y1="694.20" x2="713.56" y2="694.20" stroke="#000" stroke-width="1.8"/>
<line x1="251.06" y1="972.31" x2="274.30" y2="969.99" stroke="#000" stroke-width="1.6"/>
<line x1="313.55" y1="962.94" x2="337.89" y2="956.56" stroke="#000" stroke-width="1.6"/>
<line x1="375.91" y1="944.33" x2="433.13" y2="922.37" stroke="#000" stroke-width="1.6"/>
<line x1="470.36" y1="907.74" x2="527.80" y2="884.66" stroke="#000" stroke-width="1.6"/>
<line x1="559.99" y1="862.56" x2="595.77" y2="824.14" stroke="#000" stroke-width="1.6"/>
<line x1="621.21" y1="793.36" x2="692.15" y2="696.34" stroke="#000" stroke-width="1.6"/>
<line x1="714.53" y1="663.22" x2="756.43" y2="595.98" stroke="#000" stroke-width="1.6"/>
<rect x="221.36" y="964.50" width="19.60" height="19.60" fill="#ff8000" stroke="#000" stroke-width="2.5"/>
<rect x="284.40" y="958.20" width="19.60" height="19.60" fill="#ff8000" stroke="#000" stroke-width="2.5"/>
<rect x="347.44" y="941.70" width="19.60" height="19.60" fill="#ff8000" stroke="#000" stroke-width="2.5"/>
<rect x="442.00" y="905.40" width="19.60" height="19.60" fill="#ff8000" stroke="#000" stroke-width="2.5"/>
<rect x="536.56" y="867.40" width="19.60" height="19.60" fill="#ff8000" stroke="#000" stroke-width="2.5"/>
<rect x="599.60" y="799.70" width="19.60" height="19.60" fill="#ff8000" stroke="#000" stroke-width="2.5"/>
<rect x="694.16" y="670.40" width="19.60" height="19.60" fill="#ff8000" stroke="#000" stroke-width="2.5"/>
<rect x="757.20" y="569.20" width="19.60" height="19.60" fill="#ff8000" stroke="#000" stroke-width="2.5"/>
<line x1="609.40" y1="928.00" x2="609.40" y2="915.10" stroke="#000" stroke-width="1.8"/>
<line x1="599.80" y1="915.10" x2="619.00" y2="915.10" stroke="#000" stroke-width="1.8"/>
<line x1="609.40" y1="928.00" x2="609.40" y2="941.10" stroke="#000" stroke-width="1.8"/>
<line x1="599.80" y1="941.10" x2="619.00" y2="941.10" stroke="#000" stroke-width="1.8"/>
<line x1="703.96" y1="953.50" x2="703.96" y2="941.00" stroke="#000" stroke-width="1.8"/>
<line x1="694.36" y1="941.00" x2="713.56" y2="941.00" stroke="#000" stroke-width="1.8"/>
<line x1="703.96" y1="953.50" x2="703.96" y2="966.00" stroke="#000" stroke-width="1.8"/>
<line x1="694.36" y1="966.00" x2="713.56" y2="966.00" stroke="#000" stroke-width="1.8"/>
<line x1="251.10" y1="975.42" x2="274.26" y2="973.58" stroke="#000" stroke-width="1.6"/>
<line x1="313.59" y1="967.08" x2="337.85" y2="960.92" stroke="#000" stroke-width="1.6"/>
<line x1="377.10" y1="953.61" x2="431.94" y2="946.99" stroke="#000" stroke-width="1.6"/>
<line x1="471.75" y1="943.21" x2="526.41" y2="939.39" stroke="#000" stroke-width="1.6"/>
<line x1="566.11" y1="934.87" x2="589.65" y2="931.13" stroke="#000" stroke-width="1.6"/>
<line x1="628.71" y1="933.21" x2="684.65" y2="948.29" stroke="#000" stroke-width="1.6"/>
<line x1="723.72" y1="956.60" x2="747.24" y2="960.30" stroke="#000" stroke-width="1.6"/>
<line x1="786.95" y1="964.86" x2="810.09" y2="966.54" stroke="#000" stroke-width="1.6"/>
<line x1="850.02" y1="968.95" x2="936.14" y2="973.05" stroke="#000" stroke-width="1.6"/>
<rect x="221.36" y="967.20" width="19.60" height="19.60" fill="#8000ff" stroke="#000" stroke-width="2.5"/>
<rect x="284.40" y="962.20" width="19.60" height="19.60" fill="#8000ff" stroke="#000" stroke-width="2.5"/>
<rect x="347.44" y="946.20" width="19.60" height="19.60" fill="#8000ff" stroke="#000" stroke-width="2.5"/>
<rect x="442.00" y="934.80" width="19.60" height="19.60" fill="#8000ff" stroke="#000" stroke-width="2.5"/>
<rect x="536.56" y="928.20" width="19.60" height="19.60" fill="#8000ff" stroke="#000" stroke-width="2.5"/>
<rect x="599.60" y="918.20" width="19.60" height="19.60" fill="#8000ff" stroke="#000" stroke-width="2.5"/>
<rect x="694.16" y="943.70" width="19.60" height="19.60" fill="#8000ff" stroke="#000" stroke-width="2.5"/>
<rect x="757.20" y="953.60" width="19.60" height="19.60" fill="#8000ff" stroke="#000" stroke-width="2.5"/>
<rect x="820.24" y="958.20" width="19.60" height="19.60" fill="#8000ff" stroke="#000" stroke-width="2.5"/>
<rect x="946.32" y="964.20" width="19.60" height="19.60" fill="#8000ff" stroke="#000" stroke-width="2.5"/>
<line x1="451.80" y1="861.00" x2="451.80" y2="838.60" stroke="#000" stroke-width="1.8"/>
<line x1="442.20" y1="838.60" x2="461.40" y2="838.60" stroke="#000" stroke-width="1.8"/>
<line x1="451.80" y1="861.00" x2="451.80" y2="883.00" stroke="#000" stroke-width="1.8"/>
<line x1="442.20" y1="883.00" x2="461.40" y2="883.00" stroke="#000" stroke-width="1.8"/>
<line x1="546.36" y1="760.90" x2="546.36" y2="730.40" stroke="#000" stroke-width="1.8"/>
<line x1="536.76" y1="730.40" x2="555.96" y2="730.40" stroke="#000" stroke-width="1.8"/>
<line x1="546.36" y1="760.90" x2="546.36" y2="790.20" stroke="#000" stroke-width="1.8"/>
<line x1="536.76" y1="790.20" x2="555.96" y2="790.20" stroke="#000" stroke-width="1.8"/>
<line x1="609.40" y1="616.50" x2="609.40" y2="592.40" stroke="#000" stroke-width="1.8"/>
<line x1="599.80" y1="592.40" x2="619.00" y2="592.40" stroke="#000" stroke-width="1.8"/>
<line x1="609.40" y1="616.50" x2="609.40" y2="639.90" stroke="#000" stroke-width="1.8"/>
<line x1="599.80" y1="639.90" x2="619.00" y2="639.90" stroke="#000" stroke-width="1.8"/>
<line x1="250.44" y1="970.58" x2="274.92" y2="963.82" stroke="#000" stroke-width="1.6"/>
<line x1="313.10" y1="951.96" x2="338.34" y2="943.24" stroke="#000" stroke-width="1.6"/>
<line x1="372.85" y1="924.20" x2="436.19" y2="873.50" stroke="#000" stroke-width="1.6"/>
<line x1="465.53" y1="846.46" x2="532.63" y2="775.44" stroke="#000" stroke-width="1.6"/>
<line x1="554.36" y1="742.57" x2="601.40" y2="634.83" stroke="#000" stroke-width="1.6"/>
<rect x="221.36" y="966.10" width="19.60" height="19.60" fill="#ff0000" stroke="#000" stroke-width="2.5"/>
<rect x="284.40" y="948.70" width="19.60" height="19.60" fill="#ff0000" stroke="#000" stroke-width="2.5"/>
<rect x="347.44" y="926.90" width="19.60" height="19.60" fill="#ff0000" stroke="#000" stroke-width="2.5"/>
<rect x="442.00" y="851.20" width="19.60" height="19.60" fill="#ff0000" stroke="#000" stroke-width="2.5"/>
<rect x="536.56" y="751.10" width="19.60" height="19.60" fill="#ff0000" stroke="#000" stroke-width="2.5"/>
<rect x="599.60" y="606.70" width="19.60" height="19.60" fill="#ff0000" stroke="#000" stroke-width="2.5"/>
<path d="M522.59,915.70 L523.49,905.30 L518.59,905.30 L519.49,915.70Z M521.52,917.17 L531.69,914.82 L530.17,910.16 L520.56,914.23Z M519.79,916.61 L525.17,925.55 L529.14,922.67 L522.29,914.79Z M519.79,914.79 L512.95,922.67 L516.91,925.55 L522.29,916.61Z M521.52,914.23 L511.91,910.16 L510.39,914.82 L520.56,917.17Z" fill="#000"/>
<circle cx="521.04" cy="915.70" r="2.79" fill="#000"/>
<path d="M548.29,915.70 L549.19,905.30 L544.29,905.30 L545.19,915.70Z M547.22,917.17 L557.39,914.82 L555.87,910.16 L546.26,914.23Z M545.49,916.61 L550.87,925.55 L554.84,922.67 L547.99,914.79Z M545.49,914.79 L538.65,922.67 L542.61,925.55 L547.99,916.61Z M547.22,914.23 L537.61,910.16 L536.09,914.82 L546.26,917.17Z" fill="#000"/>
<circle cx="546.74" cy="915.70" r="2.79" fill="#000"/>
<path d="M573.99,915.70 L574.89,905.30 L569.99,905.30 L570.89,915.70Z M572.92,917.17 L583.09,914.82 L581.57,910.16 L571.96,914.23Z M571.19,916.61 L576.57,925.55 L580.54,922.67 L573.69,914.79Z M571.19,914.79 L564.35,922.67 L568.31,925.55 L573.69,916.61Z M572.92,914.23 L563.31,910.16 L561.79,914.82 L571.96,917.17Z" fill="#000"/>
<circle cx="572.44" cy="915.70" r="2.79" fill="#000"/>
<path d="M601.19,899.40 L602.09,889.00 L597.19,889.00 L598.09,899.40Z M600.12,900.87 L610.29,898.52 L608.77,893.86 L599.16,897.93Z M598.39,900.31 L603.77,909.25 L607.74,906.37 L600.89,898.49Z M598.39,898.49 L591.55,906.37 L595.51,909.25 L600.89,900.31Z M600.12,897.93 L590.51,893.86 L588.99,898.52 L599.16,900.87Z" fill="#000"/>
<circle cx="599.64" cy="899.40" r="2.79" fill="#000"/>
<path d="M626.89,899.40 L627.79,889.00 L622.89,889.00 L623.79,899.40Z M625.82,900.87 L635.99,898.52 L634.47,893.86 L624.86,897.93Z M624.09,900.31 L629.47,909.25 L633.44,906.37 L626.59,898.49Z M624.09,898.49 L617.25,906.37 L621.21,909.25 L626.59,900.31Z M625.82,897.93 L616.21,893.86 L614.69,898.52 L624.86,900.87Z" fill="#000"/>
<circle cx="625.34" cy="899.40" r="2.79" fill="#000"/>
<path d="M652.59,899.40 L653.49,889.00 L648.59,889.00 L649.49,899.40Z M651.52,900.87 L661.69,898.52 L660.17,893.86 L650.56,897.93Z M649.79,900.31 L655.17,909.25 L659.14,906.37 L652.29,898.49Z M649.79,898.49 L642.95,906.37 L646.91,909.25 L652.29,900.31Z M651.52,897.93 L641.91,893.86 L640.39,898.52 L650.56,900.87Z" fill="#000"/>
<circle cx="651.04" cy="899.40" r="2.79" fill="#000"/>
<path d="M679.69,924.60 L680.59,914.20 L675.69,914.20 L676.59,924.60Z M678.62,926.07 L688.79,923.72 L687.27,919.06 L677.66,923.13Z M676.89,925.51 L682.27,934.45 L686.24,931.57 L679.39,923.69Z M676.89,923.69 L670.05,931.57 L674.01,934.45 L679.39,925.51Z M678.62,923.13 L669.01,919.06 L667.49,923.72 L677.66,926.07Z" fill="#000"/>
<circle cx="678.14" cy="924.60" r="2.79" fill="#000"/>
<path d="M705.39,924.60 L706.29,914.20 L701.39,914.20 L702.29,924.60Z M704.32,926.07 L714.49,923.72 L712.97,919.06 L703.36,923.13Z M702.59,925.51 L707.97,934.45 L711.94,931.57 L705.09,923.69Z M702.59,923.69 L695.75,931.57 L699.71,934.45 L705.09,925.51Z M704.32,923.13 L694.71,919.06 L693.19,923.72 L703.36,926.07Z" fill="#000"/>
<circle cx="703.84" cy="924.60" r="2.79" fill="#000"/>
<path d="M731.09,924.60 L731.99,914.20 L727.09,914.20 L727.99,924.60Z M730.02,926.07 L740.19,923.72 L738.67,919.06 L729.06,923.13Z M728.29,925.51 L733.67,934.45 L737.64,931.57 L730.79,923.69Z M728.29,923.69 L721.45,931.57 L725.41,934.45 L730.79,925.51Z M730.02,923.13 L720.41,919.06 L718.89,923.72 L729.06,926.07Z" fill="#000"/>
<circle cx="729.54" cy="924.60" r="2.79" fill="#000"/>
<path d="M764.79,935.30 L765.69,924.90 L760.79,924.90 L761.69,935.30Z M763.72,936.77 L773.89,934.42 L772.37,929.76 L762.76,933.83Z M761.99,936.21 L767.37,945.15 L771.34,942.27 L764.49,934.39Z M761.99,934.39 L755.15,942.27 L759.11,945.15 L764.49,936.21Z M763.72,933.83 L754.11,929.76 L752.59,934.42 L762.76,936.77Z" fill="#000"/>
<circle cx="763.24" cy="935.30" r="2.79" fill="#000"/>
<path d="M790.49,935.30 L791.39,924.90 L786.49,924.90 L787.39,935.30Z M789.42,936.77 L799.59,934.42 L798.07,929.76 L788.46,933.83Z M787.69,936.21 L793.07,945.15 L797.04,942.27 L790.19,934.39Z M787.69,934.39 L780.85,942.27 L784.81,945.15 L790.19,936.21Z M789.42,933.83 L779.81,929.76 L778.29,934.42 L788.46,936.77Z" fill="#000"/>
<circle cx="788.94" cy="935.30" r="2.79" fill="#000"/>
<path d="M816.19,935.30 L817.09,924.90 L812.19,924.90 L813.09,935.30Z M815.12,936.77 L825.29,934.42 L823.77,929.76 L814.16,933.83Z M813.39,936.21 L818.77,945.15 L822.74,942.27 L815.89,934.39Z M813.39,934.39 L806.55,942.27 L810.51,945.15 L815.89,936.21Z M815.12,933.83 L805.51,929.76 L803.99,934.42 L814.16,936.77Z" fill="#000"/>
<circle cx="814.64" cy="935.30" r="2.79" fill="#000"/>
<line x1="200.90" y1="900.00" x2="200.90" y2="917.40" stroke="#000" stroke-width="2.4" stroke-linecap="butt"/>
<path d="M200.90,943.00 L190.40,914.40 Q200.90,920.40 211.40,914.40 Z" fill="#000"/>
<line x1="426.60" y1="827.80" x2="426.60" y2="845.00" stroke="#000" stroke-width="2.4" stroke-linecap="butt"/>
<path d="M426.60,870.00 L416.20,842.00 Q426.60,848.00 437.00,842.00 Z" fill="#000"/>
<line x1="546.30" y1="805.00" x2="546.30" y2="822.40" stroke="#000" stroke-width="2.4" stroke-linecap="butt"/>
<path d="M546.30,846.60 L535.70,819.40 Q546.30,825.40 556.90,819.40 Z" fill="#000"/>
</svg></body></html>
